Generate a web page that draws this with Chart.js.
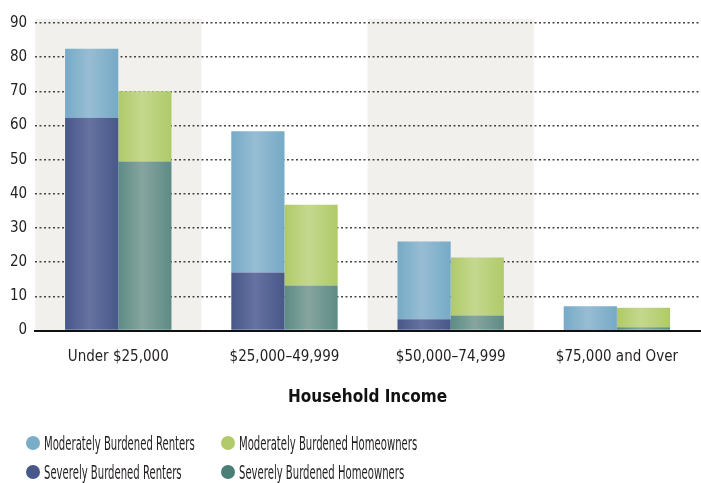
<!DOCTYPE html>
<html><head><meta charset="utf-8">
<script src="https://cdn.jsdelivr.net/npm/chart.js@4"></script>
<style>
html,body{margin:0;padding:0;background:#fff;}
#wrap{position:relative;width:701px;height:483px;}
#legend{position:absolute;left:26px;top:428px;font-family:'Liberation Sans Narrow','DejaVu Sans Condensed',sans-serif;font-size:19px;color:#231f20;white-space:nowrap;}
.row{display:flex;height:29px;align-items:center;}
.item{display:flex;align-items:center;flex-shrink:0;}
.item.c1{width:195px;}
.dot{width:14px;height:14px;border-radius:50%;margin-right:4px;flex-shrink:0;}
.txt{display:inline-block;transform:scaleX(0.59);transform-origin:left center;}
</style></head>
<body><div id="wrap"><canvas id="c" width="701" height="483"></canvas>
<div id="legend"></div></div>
<script>
const categories = ['Under $25,000', '$25,000\u201349,999', '$50,000\u201374,999', '$75,000 and Over'];
const severeRenters = [62.3, 17.0, 3.3, 0.4];
const moderateRenters = [20.2, 41.3, 22.8, 6.7];
const severeHomeowners = [49.5, 13.2, 4.4, 1.0];
const moderateHomeowners = [20.5, 23.6, 17.0, 5.7];
const yTicks = [0, 10, 20, 30, 40, 50, 60, 70, 80, 90];
const xTitle = 'Household Income';

const FONT = "'Liberation Sans Narrow','DejaVu Sans Condensed',sans-serif";
const CAT_PCT = 0.64;

function grad(edge, mid, stackIdx) {
  return (ctx) => {
    const chart = ctx.chart;
    const x = chart.scales && chart.scales.x;
    if (!x || ctx.type !== 'data' || !x.width) return edge;
    const cw = x.width / categories.length;
    const bw = cw * CAT_PCT / 2;
    const center = x.getPixelForValue(ctx.dataIndex);
    const left = center - bw + stackIdx * bw;
    const g = chart.ctx.createLinearGradient(left, 0, left + bw, 0);
    g.addColorStop(0, edge);
    g.addColorStop(0.45, mid);
    g.addColorStop(1, edge);
    return g;
  };
}

const bandPlugin = {
  id: 'bands',
  beforeDraw(chart) {
    const {ctx, chartArea, scales} = chart;
    const x = scales.x;
    const cw = x.width / categories.length;
    ctx.save();
    ctx.fillStyle = '#f1f0ec';
    [0, 2].forEach(i => {
      const l = x.left + i * cw;
      ctx.fillRect(l, chartArea.top - 4, cw, chartArea.bottom - chartArea.top + 4);
    });
    ctx.restore();
  }
};

const legendItems = [
  ['Moderately Burdened Renters', '#7aaec8'],
  ['Moderately Burdened Homeowners', '#b2cb6a'],
  ['Severely Burdened Renters', '#48588a'],
  ['Severely Burdened Homeowners', '#4a7f78']
];
const lg = document.getElementById('legend');
for (let r = 0; r < 2; r++) {
  const row = document.createElement('div'); row.className = 'row';
  for (let c = 0; c < 2; c++) {
    const [t, col] = legendItems[r * 2 + c];
    const it = document.createElement('div'); it.className = 'item c' + (c + 1);
    it.innerHTML = '<span class="dot" style="background:' + col + '"></span><span class="txt">' + t + '</span>';
    row.appendChild(it);
  }
  lg.appendChild(row);
}

new Chart(document.getElementById('c'), {
  type: 'bar',
  data: {
    labels: categories,
    datasets: [
      {label: 'Severely Burdened Renters', data: severeRenters, stack: 'r', backgroundColor: grad('#48588a', '#6672a0', 0)},
      {label: 'Moderately Burdened Renters', data: moderateRenters, stack: 'r', backgroundColor: grad('#76aac6', '#97bdd3', 0)},
      {label: 'Severely Burdened Homeowners', data: severeHomeowners, stack: 'h', backgroundColor: grad('#5d8b85', '#87a59f', 1)},
      {label: 'Moderately Burdened Homeowners', data: moderateHomeowners, stack: 'h', backgroundColor: grad('#b0ca68', '#c4d88e', 1)}
    ]
  },
  options: {
    responsive: false,
    animation: false,
    devicePixelRatio: 1,
    layout: {padding: {left: 2, right: 1, top: 23, bottom: 71}},
    datasets: {bar: {categoryPercentage: CAT_PCT, barPercentage: 1, borderWidth: 0}},
    plugins: {legend: {display: false}, tooltip: {enabled: false}},
    scales: {
      x: {
        stacked: true,
        grid: {display: false},
        border: {display: true, color: '#111', width: 2},
        ticks: {color: '#231f20', font: {family: FONT, size: 15}, padding: 10},
        title: {display: true, text: xTitle, color: '#111', font: {family: FONT, size: 17, weight: 'bold'}, padding: {top: 11}}
      },
      y: {
        stacked: true,
        min: 0, max: 90,
        afterBuildTicks: (s) => { s.ticks = yTicks.map(v => ({value: v})); },
        grid: {color: '#444', lineWidth: 1.5, drawTicks: false},
        border: {display: false, dash: [2, 2.5]},
        ticks: {color: '#231f20', font: {family: FONT, size: 15}, padding: 8}
      }
    }
  },
  plugins: [bandPlugin]
});
</script></body></html>
